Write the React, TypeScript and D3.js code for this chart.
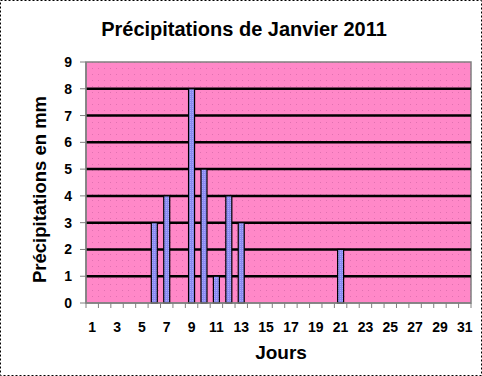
import React from "react";
import * as d3 from "d3";

const days: number[] = d3.range(1, 32);
const rain: number[] = [0,0,0,0,0,3,4,0,8,5,1,4,3,0,0,0,0,0,0,0,2,0,0,0,0,0,0,0,0,0,0];
const yTicks: number[] = [0,1,2,3,4,5,6,7,8,9];
const title = "Précipitations de Janvier 2011";
const yLabel = "Précipitations en mm";
const xLabel = "Jours";

export default function App() {
  const W = 482, H = 376;
  const left = 86, right = 471, top = 62, bottom = 303;
  const x = d3.scaleBand<number>().domain(days).range([left, right]).paddingInner(0).paddingOuter(0);
  const y = d3.scaleLinear().domain([0, 9]).range([bottom, top]);
  const bw = 6;
  const font = "Arial, 'Liberation Sans', sans-serif";
  return (
    <svg width={W} height={H} style={{ position: "absolute", left: 0, top: 0 }}>
      <defs>
        <pattern id="dots" width="6" height="6" patternUnits="userSpaceOnUse">
          <rect width="6" height="6" fill="#FF88C8" />
          <rect x="2" y="2" width="1" height="1" fill="#E070B0" />
        </pattern>
        <pattern id="bdots" width="2" height="2" patternUnits="userSpaceOnUse">
          <rect width="2" height="2" fill="#8A8AF0" />
          <rect x="0" y="0" width="1" height="1" fill="#A8A8FF" />
        </pattern>
      </defs>
      <rect x={0} y={0} width={W} height={H} fill="white" />
      <rect x={0.5} y={0.5} width={W - 1} height={H - 1} fill="none" stroke="#000" strokeDasharray="2,2" />
      <text x={244} y={36} textAnchor="middle" fontFamily={font} fontWeight="bold" fontSize={20}>{title}</text>
      <rect x={left} y={top} width={right - left} height={bottom - top} fill="url(#dots)" stroke="#808080" strokeWidth={1.5} />
      {yTicks.filter(t => t > 0 && t < 9).map(t => (
        <line key={t} x1={left} x2={right} y1={y(t)} y2={y(t)} stroke="#000" strokeWidth={2.5} />
      ))}
      {days.map((d, i) => rain[i] > 0 ? (
        <rect key={d} x={x(d)! + x.bandwidth() / 2 - bw / 2} y={y(rain[i])} width={bw} height={y(0) - y(rain[i])}
          fill="url(#bdots)" stroke="#000" strokeWidth={1.2} />
      ) : null)}
      <line x1={left} x2={left} y1={top} y2={bottom} stroke="#808080" strokeWidth={1.5} />
      <line x1={left} x2={right} y1={bottom} y2={bottom} stroke="#808080" strokeWidth={1.5} />
      {yTicks.map(t => (
        <g key={t}>
          <line x1={left - 6} x2={left} y1={y(t)} y2={y(t)} stroke="#808080" strokeWidth={1} />
          <text x={72} y={y(t) + 5} textAnchor="end" fontFamily={font} fontWeight="bold" fontSize={14}>{t}</text>
        </g>
      ))}
      {d3.range(0, 32).map(i => {
        const xx = left + i * x.bandwidth();
        return <line key={i} x1={xx} x2={xx} y1={bottom} y2={bottom + 5} stroke="#808080" strokeWidth={1} />;
      })}
      {days.filter(d => d % 2 === 1).map(d => (
        <text key={d} x={x(d)! + x.bandwidth() / 2} y={332} textAnchor="middle" fontFamily={font} fontWeight="bold" fontSize={14}>{d}</text>
      ))}
      <text x={281} y={359} textAnchor="middle" fontFamily={font} fontWeight="bold" fontSize={19}>{xLabel}</text>
      <text transform={`translate(46,${(top + bottom) / 2 + 7}) rotate(-90)`} textAnchor="middle" fontFamily={font} fontWeight="bold" fontSize={18.5}>{yLabel}</text>
    </svg>
  );
}
